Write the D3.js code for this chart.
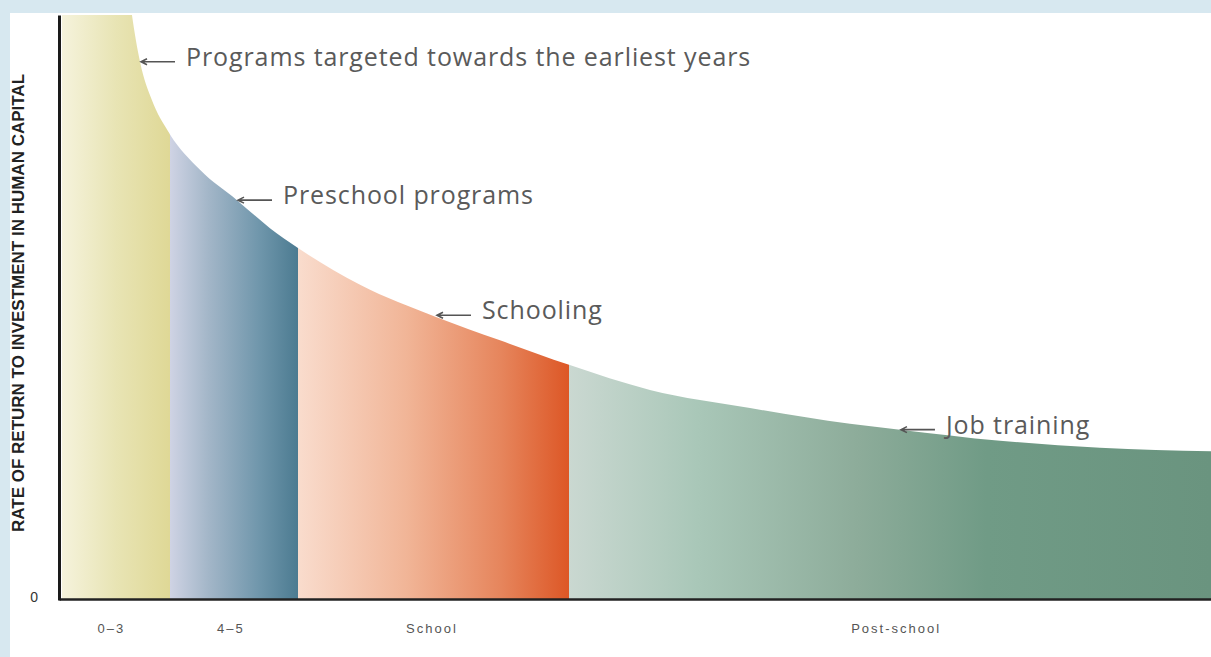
<!DOCTYPE html>
<html>
<head>
<meta charset="utf-8">
<script src="https://cdn.jsdelivr.net/npm/d3@7"></script>
<style>
  html, body { margin: 0; padding: 0; background: #d7e8f0; }
  svg { display: block; }
</style>
</head>
<body>
<div id="chart"></div>
<script>
// stages along the life cycle (x axis), boundaries in x units (0-100)
const stages = ["0–3", "4–5", "School", "Post-school"];
const stageBounds = [0, 9.4, 20.54, 44.13, 100];
const stageLabelX = [4.3, 14.7, 32.2, 72.6];

// rate of return curve (y units 0-100, above 100 is clipped)
const curveX = [0, 3.31, 5.48, 6.09, 6.79, 7.83, 9.23, 12.01, 15.23, 18.10, 20.54, 25.94,
                32.55, 38.12, 44.13, 51.17, 59.88, 68.58, 72.93, 81.64, 90.34, 100];
const curveY = [170, 130, 110, 100, 92, 85.4, 80.1, 73.5, 68.3, 63.5, 60.1, 53.8,
                48.3, 44.3, 40.1, 35.8, 32.7, 30.0, 29.0, 27.1, 25.9, 25.3];

// annotations: text and where the arrow points
const notes = ["Programs targeted towards the earliest years", "Preschool programs", "Schooling", "Job training"];
const noteX = [6.79, 15.23, 32.55, 72.93];
const noteY = [92, 68.3, 48.6, 29.0];

const yTitle = "RATE OF RETURN TO INVESTMENT IN HUMAN CAPITAL";
const yTicks = [0];

// gradient stops for each band
const bandStops = [
  [["#f5f3dc", 0], ["#e8e4b4", 0.5], ["#dfd896", 1]],
  [["#cfd3e4", 0], ["#a3b6c8", 0.3], ["#6f96ab", 0.7], ["#4c7b91", 1]],
  [["#f9dccd", 0], ["#f1b597", 0.4], ["#e6855c", 0.75], ["#dd5726", 1]],
  [["#cad8d1", 0], ["#a9c7b8", 0.2], ["#8dac9a", 0.45], ["#709b86", 0.65], ["#6a947f", 1]]
];

const W = 1211, H = 657;
const svg = d3.select("#chart").append("svg").attr("width", W).attr("height", H);

svg.append("rect").attr("width", W).attr("height", H).attr("fill", "#d7e8f0");
svg.append("rect").attr("x", 10).attr("y", 13).attr("width", W - 10).attr("height", H - 13).attr("fill", "#fff");

const x = d3.scaleLinear().domain([0, 100]).range([62, 1211]);
const y = d3.scaleLinear().domain([0, 100]).range([599, 15]);

const defs = svg.append("defs");
defs.append("clipPath").attr("id", "plotclip")
  .append("rect").attr("x", x(0)).attr("y", y(100)).attr("width", x(100) - x(0)).attr("height", y(0) - y(100));

const pts = curveX.map((v, i) => [v, curveY[i]]);
const area = d3.area()
  .x(d => x(d[0])).y0(y(0)).y1(d => y(d[1]))
  .curve(d3.curveMonotoneX);

const plot = svg.append("g").attr("clip-path", "url(#plotclip)");

stages.forEach((s, i) => {
  const x0 = x(stageBounds[i]), x1 = x(stageBounds[i + 1]);
  const grad = defs.append("linearGradient").attr("id", "grad" + i)
    .attr("gradientUnits", "userSpaceOnUse")
    .attr("x1", x0).attr("x2", x1).attr("y1", 0).attr("y2", 0);
  bandStops[i].forEach(([c, o]) => grad.append("stop").attr("offset", o).attr("stop-color", c));
  defs.append("clipPath").attr("id", "band" + i)
    .append("rect").attr("x", x0).attr("y", 0).attr("width", x1 - x0).attr("height", H);
  plot.append("path")
    .datum(pts)
    .attr("clip-path", `url(#band${i})`)
    .attr("fill", `url(#grad${i})`)
    .attr("d", area);
});

// axes
const xAxis = svg.append("g").attr("transform", `translate(0,${y(0)})`)
  .call(d3.axisBottom(d3.scaleLinear().domain([0, 100]).range([59, 1211]))
    .tickValues([]).tickSize(0).tickSizeOuter(0));
xAxis.select(".domain").attr("stroke", "#222").attr("stroke-width", 2.5);

svg.append("g").selectAll("text").data(stages).join("text")
  .attr("x", (d, i) => x(stageLabelX[i]))
  .attr("y", 633)
  .attr("text-anchor", "middle")
  .attr("font-family", "'Liberation Sans', Arial, sans-serif")
  .attr("font-size", 13)
  .attr("letter-spacing", 2)
  .attr("fill", "#555")
  .text(d => d);

const yAxis = svg.append("g").attr("transform", "translate(59,0)")
  .call(d3.axisLeft(d3.scaleLinear().domain([0, 100]).range([600, 15]))
    .tickValues(yTicks).tickSize(0).tickPadding(21).tickSizeOuter(0));
yAxis.select(".domain").attr("stroke", "#1a1a1a").attr("stroke-width", 3);
yAxis.selectAll(".tick text")
  .attr("font-family", "'Liberation Sans', Arial, sans-serif")
  .attr("font-size", 14).attr("fill", "#333").attr("dy", "0.1em");

svg.append("text")
  .attr("transform", "translate(24,303) rotate(-90)")
  .attr("text-anchor", "middle")
  .attr("font-family", "'Liberation Sans', Arial, sans-serif")
  .attr("font-weight", "bold")
  .attr("font-size", 17)
  .attr("fill", "#222")
  .text(yTitle);

// annotations with arrows
const ann = svg.append("g");
notes.forEach((t, i) => {
  const tx = x(noteX[i]), ty = y(noteY[i]);
  ann.append("path")
    .attr("d", `M${tx + 35},${ty} L${tx + 2},${ty} M${tx + 7},${ty - 3} L${tx + 1},${ty} L${tx + 7},${ty + 3}`)
    .attr("fill", "none").attr("stroke", "#555").attr("stroke-width", 1.6);
  ann.append("text")
    .attr("x", tx + 46).attr("y", ty + 4)
    .attr("font-family", "'Open Sans', sans-serif")
    .attr("font-size", 25)
    .attr("letter-spacing", 0.9)
    .attr("fill", "#5a5a5a")
    .text(t);
});
</script>
</body>
</html>
